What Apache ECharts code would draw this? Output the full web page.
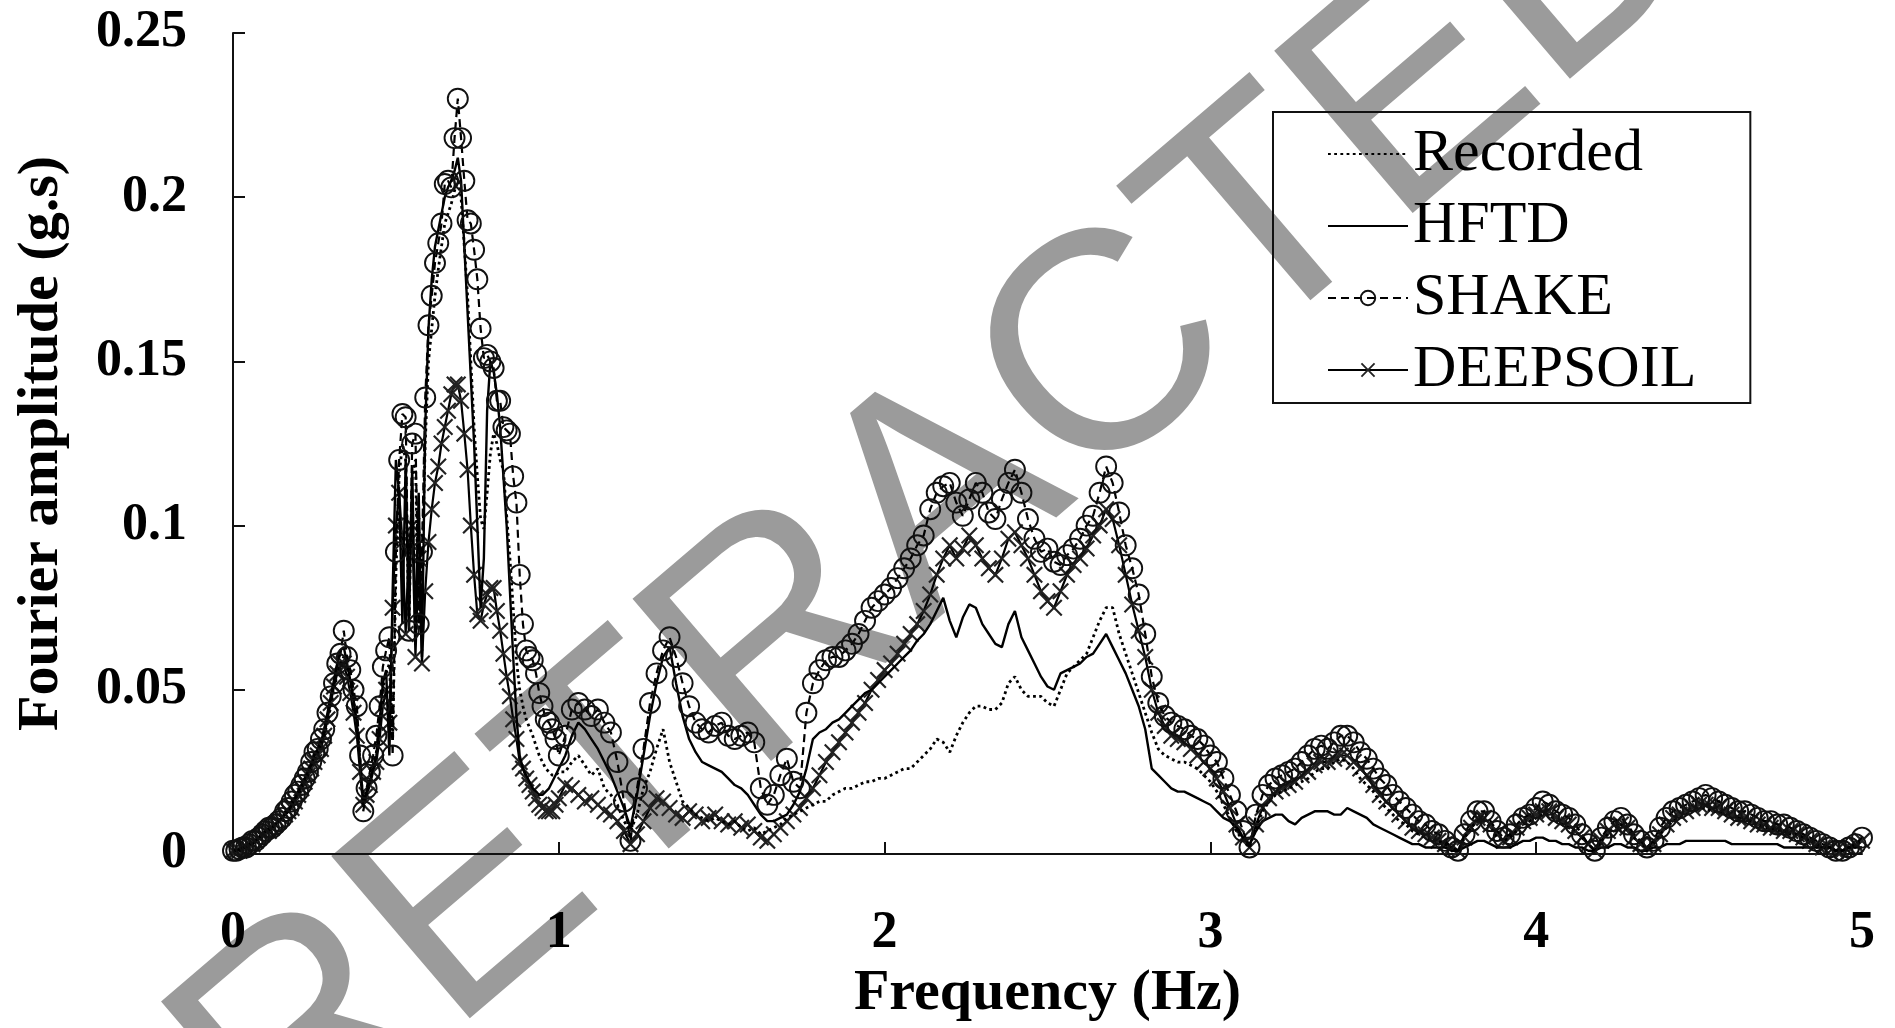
<!DOCTYPE html>
<html>
<head>
<meta charset="utf-8">
<title>Fourier amplitude spectra</title>
<script src="https://cdn.jsdelivr.net/npm/echarts@6/dist/echarts.min.js"></script>
<style>
  html, body { margin: 0; padding: 0; background: #fff; }
  #chart { width: 1895px; height: 1028px; }
</style>
</head>
<body>
<div id="chart"></div>
<script>
// Frequency grid (Hz): 0.01 Hz steps up to 1 Hz, 0.02 Hz steps from 1 to 5 Hz
const freqLow = [];
for (let i = 0; i <= 100; i++) freqLow.push(+(i * 0.01).toFixed(2));
const freqHigh = [];
for (let i = 1; i <= 200; i++) freqHigh.push(+(1 + i * 0.02).toFixed(2));

const seriesNames = ['Recorded', 'HFTD', 'SHAKE', 'DEEPSOIL'];

// Fourier amplitudes (g.s), 0.00 - 1.00 Hz
const recordedLow = [
  .001,.001,.001,.002,.002,.003,.003,.004,.005,.006,
  .007,.007,.008,.009,.010,.011,.012,.013,.015,.017,
  .018,.020,.022,.024,.026,.029,.031,.033,.036,.040,
  .045,.050,.055,.058,.060,.056,.052,.047,.040,.028,
  .014,.018,.022,.027,.031,.040,.050,.055,.058,.035,
  .085,.115,.125,.120,.070,.115,.120,.068,.085,.125,
  .150,.160,.170,.178,.185,.192,.195,.198,.202,.205,
  .200,.185,.170,.150,.130,.115,.102,.099,.110,.122,
  .128,.125,.120,.117,.103,.090,.075,.059,.050,.045,
  .041,.0385,.036,.033,.030,.028,.026,.025,.024,.024,
  .025
];
const hftdLow = [
  .001,.001,.0015,.002,.002,.003,.003,.004,.005,.006,
  .007,.007,.008,.009,.010,.011,.012,.013,.015,.017,
  .019,.021,.023,.025,.027,.030,.032,.034,.038,.043,
  .048,.053,.058,.062,.063,.058,.053,.047,.040,.028,
  .016,.019,.022,.026,.030,.040,.052,.056,.030,.080,
  .120,.110,.070,.120,.068,.118,.065,.110,.060,.130,
  .160,.175,.185,.190,.195,.200,.203,.205,.208,.212,
  .205,.185,.165,.145,.125,.100,.075,.090,.135,.150,
  .147,.140,.130,.115,.100,.080,.060,.042,.030,.026,
  .024,.022,.020,.019,.018,.018,.019,.020,.022,.024,
  .026
];
const shakeLow = [
  .001,.001,.0015,.002,.002,.003,.004,.004,.005,.006,
  .007,.008,.008,.009,.010,.011,.013,.014,.016,.018,
  .019,.021,.023,.025,.028,.031,.032,.035,.038,.043,
  .048,.052,.058,.061,.068,.060,.056,.050,.045,.030,
  .013,.020,.025,.030,.036,.045,.057,.062,.066,.030,
  .092,.120,.134,.133,.068,.125,.128,.070,.092,.139,
  .161,.170,.180,.186,.192,.204,.205,.203,.218,.230,
  .218,.205,.193,.192,.184,.175,.160,.151,.152,.150,
  .148,.138,.138,.130,.129,.128,.115,.107,.085,.070,
  .062,.060,.059,.055,.049,.045,.041,.040,.038,.035,
  .030
];
const deepsoilLow = [
  .001,.001,.001,.002,.002,.003,.003,.004,.005,.006,
  .007,.007,.008,.009,.010,.011,.012,.013,.014,.016,
  .018,.020,.022,.024,.026,.028,.030,.032,.036,.041,
  .046,.051,.055,.058,.058,.054,.049,.043,.036,.025,
  .015,.018,.021,.025,.028,.035,.045,.050,.040,.075,
  .100,.110,.095,.067,.095,.100,.060,.090,.058,.080,
  .095,.105,.113,.118,.125,.130,.135,.140,.143,.143,
  .138,.128,.117,.100,.085,.073,.071,.076,.079,.081,
  .081,.074,.068,.061,.054,.048,.041,.035,.028,.026,
  .023,.021,.019,.017,.015,.014,.013,.013,.013,.015,
  .017
];

// Fourier amplitudes (g.s), 1.02 - 5.00 Hz
const recordedHigh = [
  .025,.028,.030,.027,.024,.026,.020,.018,.015,.010,
  .007,.012,.020,.025,.032,.038,.028,.022,.016,.014,
  .012,.011,.010,.011,.010,.009,.010,.008,.007,.008,
  .006,.007,.008,.009,.011,.012,.013,.014,.015,.016,
  .016,.018,.019,.020,.020,.021,.022,.022,.023,.023,
  .024,.025,.026,.026,.028,.030,.032,.035,.034,.031,
  .036,.040,.043,.045,.045,.044,.044,.046,.052,.054,
  .050,.048,.048,.048,.046,.045,.050,.055,.057,.059,
  .061,.066,.071,.075,.075,.067,.061,.055,.049,.043,
  .037,.032,.030,.029,.028,.028,.027,.026,.024,.022,
  .019,.015,.011,.007,.004,.002,.008,.013,.016,.018,
  .019,.020,.021,.022,.023,.025,.026,.026,.028,.029,
  .028,.026,.023,.021,.019,.016,.014,.012,.010,.009,
  .007,.006,.005,.004,.004,.003,.002,.001,.005,.008,
  .010,.010,.008,.005,.004,.005,.007,.009,.010,.011,
  .012,.012,.010,.009,.008,.007,.005,.003,.001,.004,
  .006,.008,.009,.007,.005,.003,.002,.003,.006,.008,
  .010,.011,.012,.013,.014,.014,.013,.013,.012,.011,
  .011,.010,.010,.009,.008,.008,.007,.007,.006,.006,
  .005,.004,.003,.002,.002,.001,.001,.002,.003,.004
];
const hftdHigh = [
  .030,.036,.040,.038,.035,.032,.028,.024,.019,.014,
  .008,.018,.030,.042,.052,.060,.063,.052,.042,.035,
  .031,.028,.027,.026,.025,.023,.021,.020,.018,.015,
  .012,.010,.010,.011,.012,.015,.019,.026,.035,.037,
  .038,.040,.041,.043,.045,.047,.049,.050,.052,.054,
  .056,.058,.060,.062,.065,.067,.070,.074,.078,.071,
  .066,.072,.076,.075,.070,.067,.064,.063,.070,.074,
  .066,.062,.058,.054,.051,.050,.055,.056,.057,.058,
  .060,.061,.064,.067,.063,.059,.055,.050,.045,.038,
  .026,.024,.022,.020,.019,.019,.018,.017,.016,.015,
  .013,.011,.010,.008,.005,.003,.007,.010,.011,.012,
  .012,.010,.009,.011,.012,.013,.013,.013,.012,.012,
  .014,.013,.012,.011,.009,.008,.007,.006,.005,.004,
  .003,.003,.002,.002,.002,.002,.001,.001,.002,.003,
  .004,.004,.003,.002,.002,.002,.003,.004,.004,.005,
  .005,.004,.004,.003,.003,.002,.002,.001,.001,.002,
  .002,.003,.003,.002,.002,.001,.001,.002,.002,.003,
  .003,.003,.004,.004,.004,.004,.004,.004,.004,.003,
  .003,.003,.003,.003,.003,.003,.003,.002,.002,.002,
  .002,.002,.002,.002,.002,.001,.001,.002,.002,.002
];
const shakeHigh = [
  .036,.044,.046,.044,.042,.044,.040,.037,.028,.016,
  .004,.020,.032,.046,.055,.062,.066,.060,.052,.045,
  .040,.038,.037,.039,.040,.036,.035,.036,.037,.034,
  .020,.015,.018,.024,.029,.022,.020,.043,.052,.056,
  .059,.060,.060,.062,.064,.067,.071,.075,.077,.079,
  .081,.084,.087,.090,.094,.097,.105,.110,.112,.113,
  .107,.103,.108,.113,.110,.104,.102,.108,.113,.117,
  .110,.102,.096,.092,.093,.089,.088,.091,.093,.096,
  .100,.103,.110,.118,.113,.104,.094,.087,.079,.067,
  .054,.046,.042,.040,.039,.038,.036,.035,.033,.030,
  .028,.023,.018,.013,.007,.002,.012,.018,.021,.023,
  .024,.025,.026,.028,.030,.032,.033,.032,.034,.036,
  .036,.034,.031,.029,.026,.023,.021,.018,.016,.014,
  .012,.010,.009,.007,.006,.004,.002,.001,.006,.010,
  .013,.013,.010,.007,.005,.006,.009,.011,.012,.014,
  .016,.015,.013,.012,.011,.009,.006,.003,.001,.005,
  .008,.010,.011,.009,.006,.004,.002,.004,.008,.011,
  .013,.014,.015,.016,.017,.018,.017,.016,.015,.014,
  .013,.013,.012,.011,.010,.010,.009,.009,.008,.007,
  .006,.005,.004,.003,.002,.001,.001,.002,.003,.005
];
const deepsoilHigh = [
  .021,.020,.018,.016,.017,.015,.013,.012,.010,.007,
  .003,.006,.010,.014,.017,.016,.014,.012,.011,.013,
  .012,.010,.011,.012,.010,.009,.010,.008,.009,.007,
  .005,.004,.006,.008,.010,.012,.014,.017,.020,.024,
  .028,.031,.034,.037,.040,.043,.046,.050,.053,.056,
  .058,.061,.064,.067,.070,.074,.079,.085,.090,.094,
  .090,.093,.097,.094,.090,.087,.085,.090,.096,.098,
  .094,.090,.085,.080,.077,.075,.080,.085,.088,.090,
  .093,.097,.100,.105,.102,.094,.085,.076,.068,.060,
  .050,.043,.039,.036,.035,.034,.032,.030,.028,.026,
  .023,.019,.014,.009,.005,.002,.009,.014,.017,.019,
  .020,.021,.022,.024,.025,.027,.028,.028,.029,.030,
  .030,.028,.026,.024,.021,.018,.016,.014,.012,.010,
  .008,.007,.006,.005,.004,.003,.002,.001,.005,.008,
  .011,.011,.009,.006,.004,.005,.008,.010,.011,.012,
  .013,.013,.011,.010,.009,.007,.005,.003,.001,.004,
  .007,.009,.009,.008,.005,.003,.002,.003,.006,.009,
  .011,.012,.013,.014,.015,.015,.014,.014,.013,.012,
  .011,.011,.010,.009,.009,.008,.008,.007,.007,.006,
  .005,.004,.003,.002,.002,.001,.001,.002,.003,.004
];

const xTicks = { min: 0, max: 5, step: 1 };
const yTicks = { min: 0, max: 0.25, step: 0.05 };
const xInnerTicks = [1, 2, 3, 4];

function pairs(lowVals, highVals) {
  const f = freqLow.concat(freqHigh);
  const v = lowVals.concat(highVals);
  return f.map((x, i) => [x, v[i]]);
}

const SERIF = '"Liberation Serif", "Times New Roman", serif';
const crossPath = 'path://M0,0.9L0.9,0L5,4.1L9.1,0L10,0.9L5.9,5L10,9.1L9.1,10L5,5.9L0.9,10L0,9.1L4.1,5Z';

const chart = echarts.init(document.getElementById('chart'), null, { renderer: 'canvas' });

const axisCommon = {
  axisLine: { lineStyle: { color: '#111', width: 2 } },
  axisTick: { inside: true, length: 12, lineStyle: { color: '#111', width: 2 } },
  splitLine: { show: false },
  axisLabel: { fontFamily: SERIF, fontWeight: 'bold', fontSize: 52, color: '#000' },
  nameTextStyle: { fontFamily: SERIF, fontWeight: 'bold', fontSize: 58, color: '#000' }
};

chart.setOption({
  animation: false,
  backgroundColor: '#fff',
  graphic: [{
    type: 'text',
    x: 945, y: 500,
    rotation: 40.5 * Math.PI / 180,
    z: -10,
    silent: true,
    style: {
      text: 'RETRACTED',
      fontFamily: '"Liberation Sans", Arial, sans-serif',
      fontSize: 310,
      fill: '#9b9b9b',
      align: 'center',
      verticalAlign: 'middle'
    }
  }],
  grid: { left: 233, right: 33, top: 33, bottom: 174 },
  legend: {
    orient: 'vertical',
    left: 1273, top: 112,
    padding: [12, 54, 3, 54],
    itemGap: 12,
    itemWidth: 80,
    itemHeight: 18,
    borderColor: '#111',
    borderWidth: 2,
    textStyle: { fontFamily: SERIF, fontSize: 60, color: '#000', lineHeight: 60 },
    data: [
      { name: seriesNames[0], itemStyle: { opacity: 0 } },
      { name: seriesNames[1], itemStyle: { opacity: 0 } },
      seriesNames[2],
      seriesNames[3]
    ]
  },
  xAxis: Object.assign({}, axisCommon, {
    type: 'value',
    min: xTicks.min, max: xTicks.max, interval: xTicks.step,
    name: 'Frequency (Hz)', nameLocation: 'middle', nameGap: 108,
    axisTick: Object.assign({}, axisCommon.axisTick, { customValues: xInnerTicks }),
    axisLabel: Object.assign({}, axisCommon.axisLabel, { margin: 54 })
  }),
  yAxis: Object.assign({}, axisCommon, {
    type: 'value',
    min: yTicks.min, max: yTicks.max, interval: yTicks.step,
    name: 'Fourier amplitude (g.s)', nameLocation: 'middle', nameGap: 162, nameRotate: 90,
    axisLabel: Object.assign({}, axisCommon.axisLabel, { margin: 46 })
  }),
  series: [
    {
      name: seriesNames[0], type: 'line', data: pairs(recordedLow, recordedHigh),
      symbol: 'none', z: 4,
      lineStyle: { color: '#000', width: 2.8, type: [2.8, 3.4] },
      itemStyle: { color: '#000' }
    },
    {
      name: seriesNames[1], type: 'line', data: pairs(hftdLow, hftdHigh),
      symbol: 'none', z: 3,
      lineStyle: { color: '#000', width: 2.4 },
      itemStyle: { color: '#000' }
    },
    {
      name: seriesNames[2], type: 'line', data: pairs(shakeLow, shakeHigh),
      symbol: 'circle', symbolSize: 20, showSymbol: true, showAllSymbol: true, z: 5,
      lineStyle: { color: '#000', width: 2.2, type: [8, 5] },
      itemStyle: { color: 'rgba(0,0,0,0)', borderColor: '#111', borderWidth: 1.9 }
    },
    {
      name: seriesNames[3], type: 'line', data: pairs(deepsoilLow, deepsoilHigh),
      symbol: crossPath, symbolSize: 17, showSymbol: true, showAllSymbol: true, z: 2,
      lineStyle: { color: '#000', width: 2.2 },
      itemStyle: { color: '#222' }
    }
  ]
});
</script>
</body>
</html>
